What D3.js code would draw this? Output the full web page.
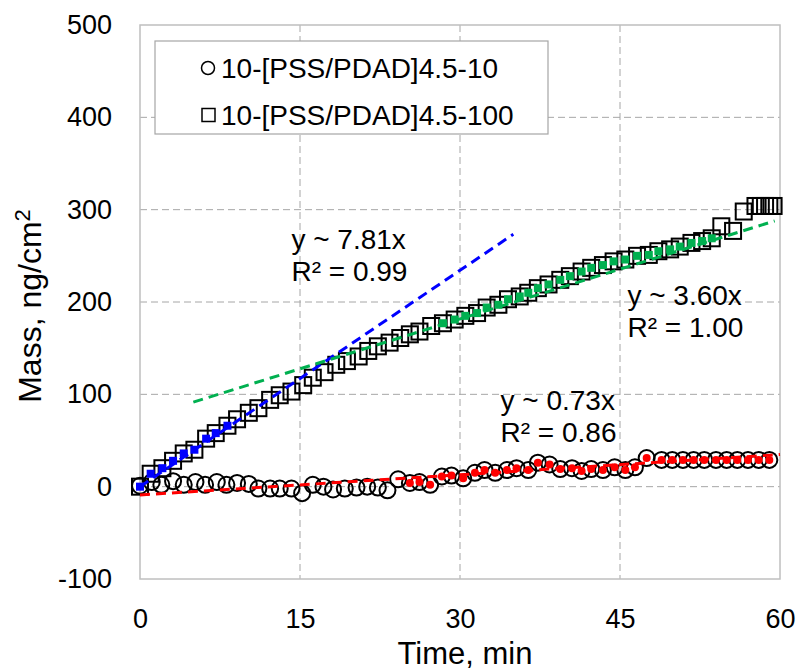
<!DOCTYPE html>
<html>
<head>
<meta charset="utf-8">
<script src="https://cdn.jsdelivr.net/npm/d3@7"></script>
<style>
  body { margin: 0; background: #fff; }
  svg text { font-family: "Liberation Sans", Arial, sans-serif; fill: #000; }
</style>
</head>
<body>
<svg id="chart" width="798" height="672"></svg>
<script>
// ── data ──────────────────────────────────────────────────
const seriesNames = ['10-[PSS/PDAD]4.5-10', '10-[PSS/PDAD]4.5-100'];

// circles, 10-[PSS/PDAD]4.5-10
const timeA = [0.0, 1.1, 2.0, 3.1, 4.1, 5.2, 6.1, 7.2, 8.1, 9.1, 10.2, 11.1, 12.2, 13.1, 14.2,
  15.2, 16.2, 17.2, 18.1, 19.2, 20.3, 21.3, 22.3, 23.2, 24.2, 25.3, 26.2, 27.2, 28.3, 29.2,
  30.3, 31.4, 32.3, 33.3, 34.4, 35.3, 36.4, 37.3, 38.4, 39.4, 40.5, 41.4, 42.3, 43.4, 44.5,
  45.5, 46.4, 47.5, 48.9, 49.9, 50.9, 51.9, 52.9, 54.0, 55.0, 56.0, 57.0, 58.0, 59.0];
const massA = [1, 5, 2, 6, 2, 5, 2, 5, 2, 4, 3, -2, -2, -2, -2,
  -7, 2, 0, -3, -2, -1, 0, -1, -4, 8, 4, 5, 2, 11, 12,
  9, 15, 18, 15, 18, 20, 18, 26, 24, 19, 20, 17, 19, 18, 21,
  18, 21, 31, 29, 29, 29, 29, 29, 29, 29, 29, 29, 29, 29];

// squares, 10-[PSS/PDAD]4.5-100
const timeB = [0.0, 1.0, 2.1, 3.1, 4.1, 5.1, 6.2, 7.1, 8.2, 9.1, 10.2, 11.1, 12.2, 13.1, 14.2,
  15.3, 16.2, 17.3, 18.4, 19.4, 20.5, 21.4, 22.3, 23.4, 24.4, 25.3, 26.2, 27.3, 28.4, 29.5,
  30.5, 31.6, 32.5, 33.6, 34.5, 35.6, 36.4, 37.3, 38.3, 39.4, 40.3, 41.4, 42.3, 43.4, 44.4,
  45.5, 46.6, 47.7, 48.6, 49.7, 50.6, 51.7, 52.7, 53.6, 54.5, 55.6, 56.6, 57.7, 58.2, 58.6,
  59.0, 59.4];
const massB = [0, 14, 20, 28, 36, 40, 52, 58, 66, 73, 80, 85, 94, 99, 103,
  110, 118, 124, 132, 136, 141, 147, 152, 156, 161, 165, 168, 174, 177, 181,
  185, 188, 194, 197, 203, 206, 210, 215, 219, 224, 228, 233, 237, 240, 244,
  246, 250, 251, 255, 257, 260, 264, 266, 269, 282, 277, 298, 304, 304, 304,
  304, 304];

// fits: series index, slope, intercept, time window of the fitted points, drawn line span
const fitSeries     = [0, 1, 1];
const fitSlopes     = [0.73, 7.81, 3.60];
const fitIntercepts = [-9, 0, 73.6];
const fitWindows    = [[24.7, 60], [0, 8.5], [28, 54]];
const fitSpans      = [[0, 60], [0, 35], [5, 59.5]];
const fitEquations  = ['y ~ 0.73x', 'y ~ 7.81x', 'y ~ 3.60x'];
const fitR2         = ['R² = 0.86', 'R² = 0.99', 'R² = 1.00'];

const xTicks = [0, 15, 30, 45, 60];
const yTicks = [-100, 0, 100, 200, 300, 400, 500];

// ── layout ───────────────────────────────────────────────
const margin = { left: 140, top: 25, right: 18, bottom: 93 };
const W = 798, H = 672;
const innerW = W - margin.left - margin.right;
const innerH = H - margin.top - margin.bottom;
const fitColors = ['#ff0000', '#0000ff', '#00b050'];
const labelPos = [[33.8, 83], [14.2, 257], [45.7, 197]];   // data coords of the equation baseline

const svg = d3.select('#chart');
const g = svg.append('g').attr('transform', `translate(${margin.left},${margin.top})`);

const x = d3.scaleLinear().domain([0, 60]).range([0, innerW]);
const y = d3.scaleLinear().domain([-100, 500]).range([innerH, 0]);

// grid
g.append('g').selectAll('line').data(yTicks.filter(v => v > -100 && v < 500)).join('line')
  .attr('x1', 0).attr('x2', innerW).attr('y1', d => y(d)).attr('y2', d => y(d))
  .attr('stroke', '#a6a6a6').attr('stroke-width', 1).attr('stroke-dasharray', '7,4');
g.append('g').selectAll('line').data(xTicks.filter(v => v > 0 && v < 60)).join('line')
  .attr('y1', 0).attr('y2', innerH).attr('x1', d => x(d)).attr('x2', d => x(d))
  .attr('stroke', '#a6a6a6').attr('stroke-width', 1).attr('stroke-dasharray', '7,4');

// frame
g.append('rect').attr('width', innerW).attr('height', innerH)
  .attr('fill', 'none').attr('stroke', '#bfbfbf').attr('stroke-width', 1.5);

// axes
g.append('g').attr('transform', `translate(0,${innerH})`)
  .call(d3.axisBottom(x).tickValues(xTicks).tickSize(0).tickPadding(30).tickFormat(d => String(d)))
  .call(a => a.select('.domain').remove())
  .selectAll('text').attr('font-size', 27).attr('fill', '#000');
g.append('g')
  .call(d3.axisLeft(y).tickValues(yTicks).tickSize(0).tickPadding(28).tickFormat(d => String(d)))
  .call(a => a.select('.domain').remove())
  .selectAll('text').attr('font-size', 27).attr('fill', '#000');

svg.append('text').attr('x', margin.left + innerW / 2 + 5).attr('y', 664)
  .attr('text-anchor', 'middle').attr('font-size', 31).text('Time, min');
const yt = svg.append('text').attr('transform', `translate(41,306) rotate(-90)`)
  .attr('text-anchor', 'middle').attr('font-size', 32);
yt.append('tspan').text('Mass, ng/cm');
yt.append('tspan').attr('font-size', 22).attr('dy', -11).text('2');

// data
const dataA = timeA.map((t, i) => ({ t, m: massA[i] }));
const dataB = timeB.map((t, i) => ({ t, m: massB[i] }));
const allData = [dataA, dataB];

// open markers
g.append('g').selectAll('circle').data(dataA).join('circle')
  .attr('cx', d => x(d.t)).attr('cy', d => y(d.m)).attr('r', 8)
  .attr('fill', 'none').attr('stroke', '#000').attr('stroke-width', 2);
const sq = 16;
g.append('g').selectAll('rect').data(dataB).join('rect')
  .attr('x', d => x(d.t) - sq / 2).attr('y', d => y(d.m) - sq / 2)
  .attr('width', sq).attr('height', sq)
  .attr('fill', 'none').attr('stroke', '#000').attr('stroke-width', 2);

// trend lines
const line = d3.line().x(d => x(d[0])).y(d => y(d[1]));
fitSlopes.forEach((k, i) => {
  const [a, b] = fitSpans[i];
  g.append('path')
    .attr('d', line([[a, k * a + fitIntercepts[i]], [b, k * b + fitIntercepts[i]]]))
    .attr('fill', 'none').attr('stroke', fitColors[i]).attr('stroke-width', 3)
    .attr('stroke-dasharray', '10,6');
});

// fitted points
fitSeries.forEach((s, i) => {
  const [lo, hi] = fitWindows[i];
  const pts = allData[s].filter(d => d.t >= lo && d.t <= hi);
  if (s === 0) {
    g.append('g').selectAll('circle').data(pts).join('circle')
      .attr('cx', d => x(d.t)).attr('cy', d => y(d.m)).attr('r', 4)
      .attr('fill', fitColors[i]);
  } else {
    g.append('g').selectAll('rect').data(pts).join('rect')
      .attr('x', d => x(d.t) - 4).attr('y', d => y(d.m) - 4)
      .attr('width', 8).attr('height', 8).attr('fill', fitColors[i]);
  }
});

// equations
fitEquations.forEach((eq, i) => {
  const [lx, ly] = labelPos[i];
  const t = g.append('text').attr('x', x(lx)).attr('y', y(ly)).attr('font-size', 28);
  t.append('tspan').attr('x', x(lx)).text(eq);
  t.append('tspan').attr('x', x(lx)).attr('dy', 32).text(fitR2[i]);
});

// legend
const lg = svg.append('g').attr('transform', 'translate(155,41)');
lg.append('rect').attr('width', 393).attr('height', 93)
  .attr('fill', '#fff').attr('stroke', '#a6a6a6').attr('stroke-width', 1.2);
seriesNames.forEach((name, i) => {
  const cy = 27 + i * 47;
  if (i === 0) {
    lg.append('circle').attr('cx', 53).attr('cy', cy).attr('r', 6.5)
      .attr('fill', 'none').attr('stroke', '#000').attr('stroke-width', 1.5);
  } else {
    lg.append('rect').attr('x', 47).attr('y', cy - 6.5).attr('width', 13).attr('height', 13)
      .attr('fill', 'none').attr('stroke', '#000').attr('stroke-width', 1.5);
  }
  lg.append('text').attr('x', 66).attr('y', cy + 10).attr('font-size', 28).text(name);
});
</script>
</body>
</html>
